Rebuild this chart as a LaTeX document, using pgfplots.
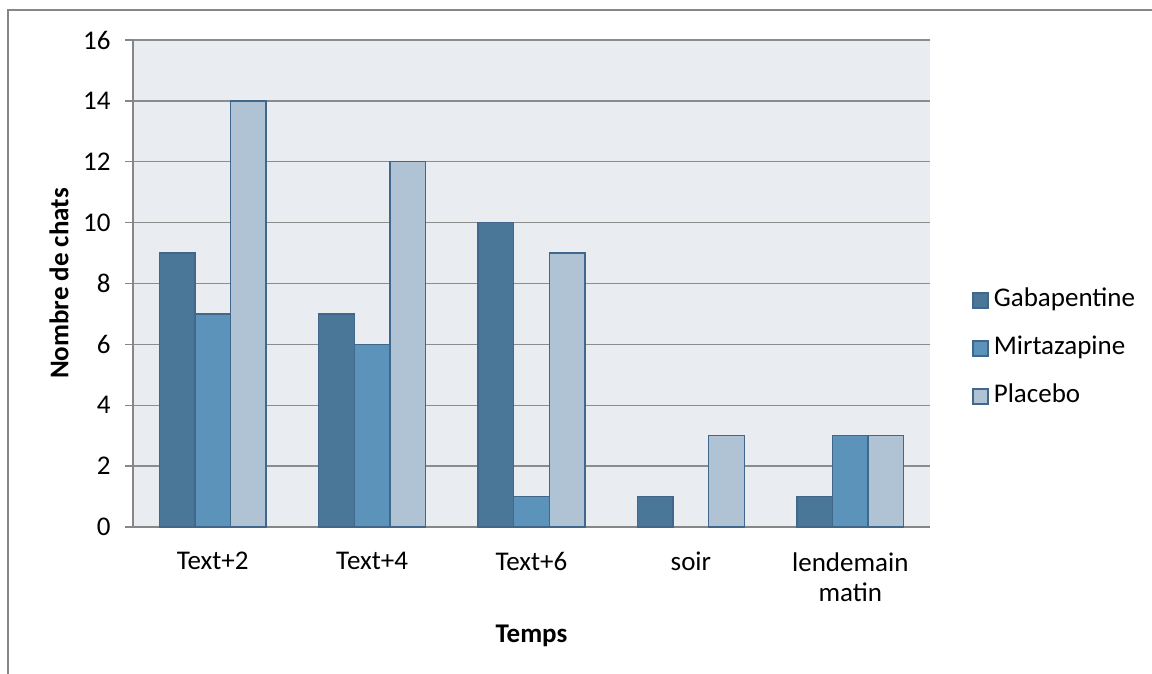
\documentclass[border=0pt]{standalone}
\usepackage{fontspec}
\setmainfont{Carlito}
\usepackage{pgfplots}
\pgfplotsset{compat=1.18}

\definecolor{plotbg}{RGB}{233,236,241}
\definecolor{gaba}{RGB}{74,118,151}
\definecolor{mirta}{RGB}{92,147,186}
\definecolor{placebo}{RGB}{175,195,213}
\definecolor{baredge}{RGB}{65,104,138}
\definecolor{gridgray}{RGB}{140,140,140}
\definecolor{framegray}{RGB}{134,134,134}

\newcommand{\chartfont}{\fontsize{13.5}{15}\selectfont}

\pgfplotsset{
  sqlegend/.style={legend image code/.code={\draw[##1] (0pt,-3.75pt) rectangle (7.5pt,3.75pt);}},
}

\begin{document}
\begin{tikzpicture}
\path[use as bounding box] (0,0) rectangle (576pt,-337pt);
% outer chart frame
\draw[framegray, line width=1pt] (4pt,-337pt) -- (4pt,-5pt) -- (576pt,-5pt);

\begin{axis}[
  at={(66.5pt,-263.5pt)}, anchor=south west,
  scale only axis,
  width=398.5pt, height=243.5pt,
  ybar=0pt, bar width=17.8pt,
  xmin=-0.5, xmax=4.5,
  ymin=0, ymax=16,
  xtick={0,1,2,3,4},
  xticklabels={Text+2, Text+4, Text+6, soir, {lendemain\\matin}},
  ytick={0,2,...,16},
  major x tick style={draw=none},
  tick align=outside,
  major tick length=4pt,
  y tick style={framegray, line width=0.7pt},
  /pgf/number format/assume math mode=true,
  tick label style={font=\chartfont, text=black},
  xticklabel style={align=center, anchor=north, inner sep=0pt, yshift=-8.5pt},
  yticklabel style={anchor=east, inner sep=0pt, xshift=-7pt},
  axis x line*=bottom, axis y line*=left,
  axis line style={framegray, line width=1pt},
  ymajorgrids,
  grid style={gridgray, line width=0.7pt},
  axis background/.style={fill=plotbg},
  xlabel={Temps}, ylabel={Nombre de chats},
  label style={font=\chartfont\bfseries},
  xlabel style={at={(axis description cs:0.5,0)}, anchor=north, inner sep=0pt, yshift=-49pt},
  ylabel style={at={(axis description cs:-0.0928,0.5)}, anchor=center, inner sep=0pt},
  legend style={draw=none, fill=none, inner sep=0pt,
    at={(axis description cs:1.0527,0.3666)}, anchor=west,
    font=\chartfont,
    row sep=12pt, column sep=2.5pt,
    nodes={inner sep=0pt, text height=9pt, text depth=3pt}},
  legend cell align=left,
]
\addplot[fill=gaba, draw=baredge, line width=0.7pt, sqlegend] coordinates {(0,9) (1,7) (2,10) (3,1) (4,1)};
\addplot[fill=mirta, draw=baredge, line width=0.7pt, sqlegend] coordinates {(0,7) (1,6) (2,1) (4,3)};
\addplot[fill=placebo, draw=baredge, line width=0.7pt, sqlegend] coordinates {(0,14) (1,12) (2,9) (3,3) (4,3)};
\legend{Gabapentine, Mirtazapine, Placebo}
\end{axis}
\end{tikzpicture}
\end{document}
